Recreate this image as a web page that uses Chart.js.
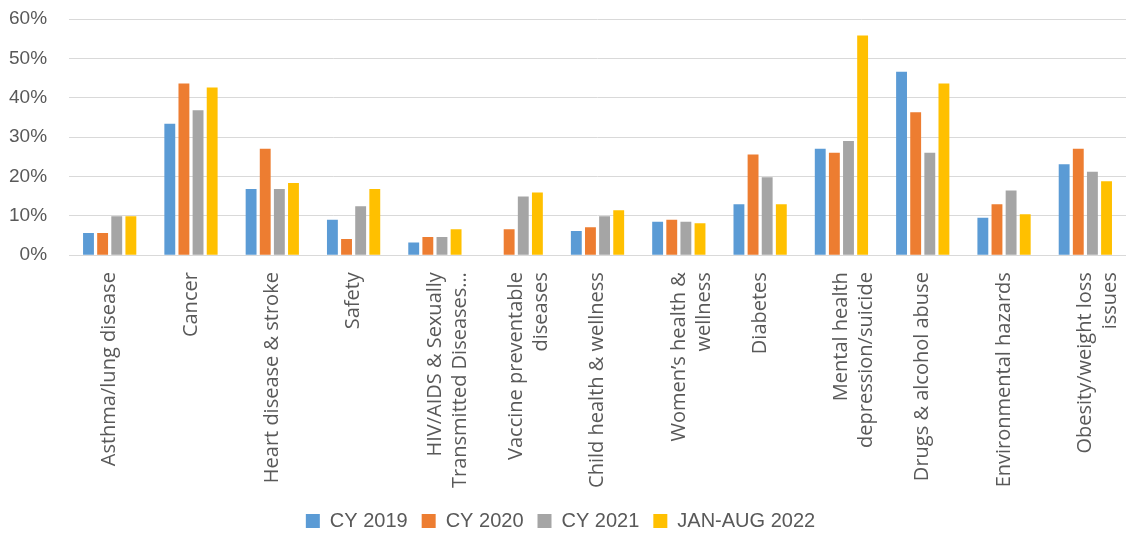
<!DOCTYPE html>
<html>
<head>
<meta charset="utf-8">
<script src="https://cdn.jsdelivr.net/npm/chart.js@4"></script>
<style>
  html, body { margin: 0; padding: 0; background: #ffffff; }
  #wrap { width: 1126px; height: 533px; position: relative; }
</style>
</head>
<body>
<div id="wrap"><canvas id="healthChart"></canvas></div>
<script>
// Categories (multi-line labels as in the original)
const categories = [
    'Asthma/lung disease',
    'Cancer',
    'Heart disease & stroke',
    'Safety',
    ['HIV/AIDS & Sexually', 'Transmitted Diseases…'],
    ['Vaccine preventable', 'diseases'],
    'Child health & wellness',
    ['Women’s health &', 'wellness'],
    'Diabetes',
    ['Mental health', 'depression/suicide'],
    'Drugs & alcohol abuse',
    'Environmental hazards',
    ['Obesity/weight loss', 'issues'],
];

// Series values (percent)
const cy2019 = [5.6, 33.4, 16.8, 9.0, 3.2, 0, 6.1, 8.5, 12.9, 27.0, 46.6, 9.5, 23.1];
const cy2020 = [5.6, 43.6, 27.0, 4.1, 4.6, 6.6, 7.1, 9.0, 25.6, 26.0, 36.3, 12.9, 27.0];
const cy2021 = [9.9, 36.8, 16.8, 12.4, 4.6, 14.9, 9.9, 8.5, 19.8, 29.0, 26.0, 16.4, 21.2];
const janAug2022 = [9.9, 42.6, 18.3, 16.8, 6.6, 15.9, 11.4, 8.1, 12.9, 55.8, 43.6, 10.4, 18.8];

// Y axis ticks
const yTicks = [0, 10, 20, 30, 40, 50, 60];

const labelFont = '"Open Sans", sans-serif';
const numFont = '"Liberation Sans", Arial, sans-serif';
const textGray = '#595959';

const ctx = document.getElementById('healthChart').getContext('2d');

new Chart(ctx, {
    type: 'bar',
    data: {
        labels: categories,
        datasets: [
            { label: 'CY 2019', data: cy2019, backgroundColor: '#5B9BD5' },
            { label: 'CY 2020', data: cy2020, backgroundColor: '#ED7D31' },
            { label: 'CY 2021', data: cy2021, backgroundColor: '#A5A5A5' },
            { label: 'JAN-AUG 2022', data: janAug2022, backgroundColor: '#FFC000' },
        ],
    },
    options: {
        responsive: true,
        maintainAspectRatio: false,
        animation: false,
        datasets: {
            bar: { categoryPercentage: 0.695, barPercentage: 0.77 },
        },
        layout: { padding: { top: 0, left: -13, right: -8, bottom: -8 } },
        plugins: {
            tooltip: { enabled: false },
            legend: {
                display: true,
                position: 'bottom',
                labels: {
                    color: textGray,
                    boxWidth: 14,
                    boxHeight: 14,
                    padding: 14,
                    font: { size: 20, family: numFont },
                },
            },
        },
        scales: {
            x: {
                grid: { display: false },
                border: { display: true, color: '#d9d9d9', width: 1 },
                afterFit: (axis) => {
                    // let the plot run to the edges like the original
                    axis.paddingLeft = 0;
                    axis.paddingRight = 0;
                },
                ticks: {
                    color: textGray,
                    minRotation: 90,
                    maxRotation: 90,
                    autoSkip: false,
                    padding: 9,
                    font: { size: 20, family: labelFont, lineHeight: 1.25 },
                },
            },
            y: {
                min: 0,
                max: 60,
                afterBuildTicks: (axis) => {
                    axis.ticks = yTicks.map(v => ({ value: v }));
                },
                afterFit: (axis) => {
                    axis.paddingTop = 19;
                },
                grid: { color: '#d9d9d9', lineWidth: 1, drawTicks: false },
                border: { display: false },
                ticks: {
                    color: textGray,
                    padding: 22,
                    font: { size: 19, family: numFont },
                    callback: (v) => v + '%',
                },
            },
        },
    },
});
</script>
</body>
</html>
